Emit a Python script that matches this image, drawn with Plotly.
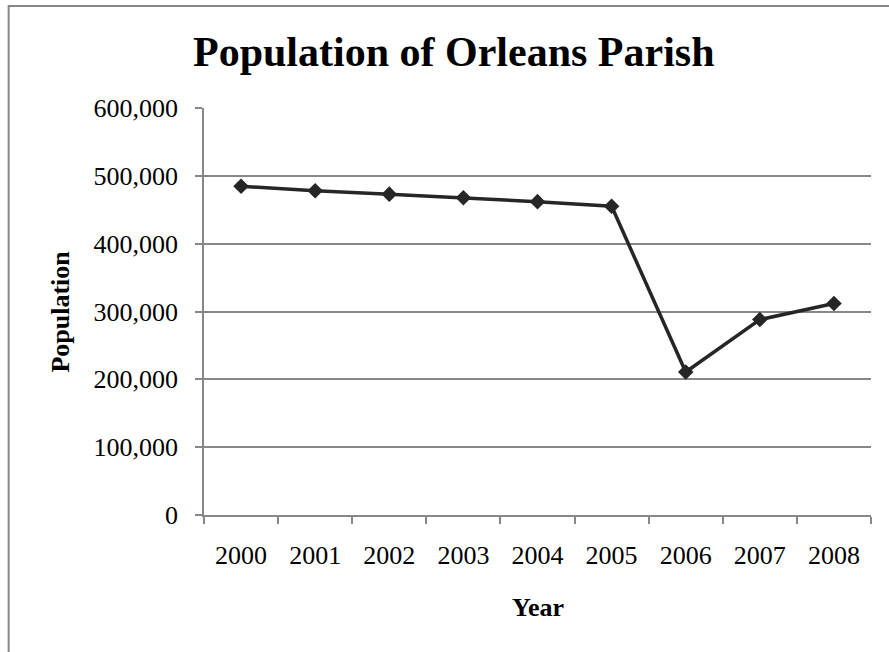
import plotly.graph_objects as go

years = ["2000", "2001", "2002", "2003", "2004", "2005", "2006", "2007", "2008"]
population = [484674, 477932, 473000, 467761, 461915, 455188, 210768, 288113, 311853]
y_ticks = [0, 100000, 200000, 300000, 400000, 500000, 600000]
y_tick_labels = ["0", "100,000", "200,000", "300,000", "400,000", "500,000", "600,000"]

W, H = 889, 652
L, R, T, B = 203.5, 18, 108, 137
pw = W - L - R
ph = H - T - B

def px_x(p):
    return (p - L) / pw

def px_y(p):
    return (H - B - p) / ph

font = "Liberation Serif, Times New Roman, serif"
grey = "#878787"

fig = go.Figure()
fig.add_trace(go.Scatter(
    x=years, y=population, mode="lines+markers",
    line=dict(color="#262626", width=3.5),
    marker=dict(symbol="diamond", size=12, color="#262626"),
    showlegend=False,
))

fig.update_layout(
    width=W, height=H,
    margin=dict(l=L, r=R, t=T, b=B),
    paper_bgcolor="white", plot_bgcolor="white",
    font=dict(family=font, color="black", size=26),
    xaxis=dict(
        type="category", range=[-0.5, 8.5], tickson="boundaries",
        ticks="outside", ticklen=7, tickcolor=grey, tickwidth=1.5,
        showline=True, linecolor=grey, linewidth=1.5, showgrid=False,
        ticklabelstandoff=16,
    ),
    yaxis=dict(
        range=[0, 600000], tickvals=y_ticks, ticktext=y_tick_labels,
        ticks="outside", ticklen=7, tickcolor=grey, tickwidth=1.5,
        showline=True, linecolor=grey, linewidth=1.5,
        showgrid=True, gridcolor=grey, gridwidth=1.5, zeroline=False,
        ticklabelstandoff=12,
    ),
    shapes=[dict(
        type="rect", xref="paper", yref="paper",
        x0=px_x(8), x1=px_x(W + 20), y0=px_y(H + 20), y1=px_y(6),
        line=dict(color=grey, width=2), fillcolor="rgba(0,0,0,0)", layer="below",
    )],
    annotations=[
        dict(text="<b>Population of Orleans Parish</b>", xref="paper", yref="paper",
             x=px_x(453.5), y=px_y(52), xanchor="center", yanchor="middle",
             showarrow=False, font=dict(size=42, family=font)),
        dict(text="<b>Population</b>", xref="paper", yref="paper",
             x=px_x(59), y=px_y(312), xanchor="center", yanchor="middle",
             textangle=-90, showarrow=False, font=dict(size=26, family=font)),
        dict(text="<b>Year</b>", xref="paper", yref="paper",
             x=px_x(537.5), y=px_y(607), xanchor="center", yanchor="middle",
             showarrow=False, font=dict(size=26, family=font)),
    ],
)

fig.write_html("out.html")
